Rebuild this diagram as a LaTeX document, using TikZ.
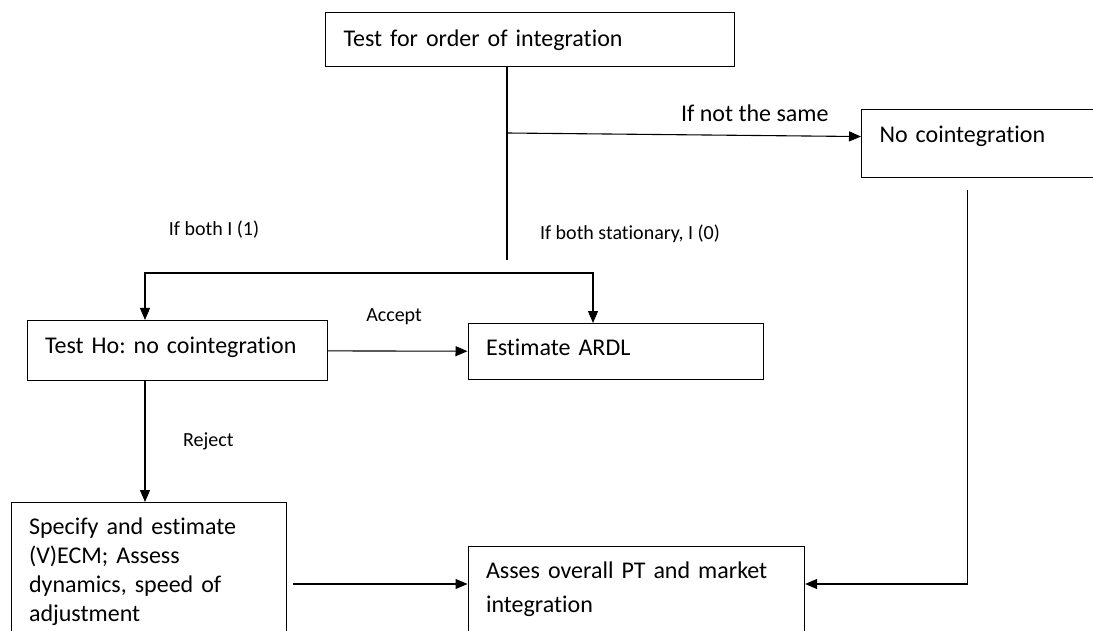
\documentclass[tikz,border=0pt]{standalone}
\usepackage{fontspec}
\setmainfont{Carlito}[RawFeature={-liga;-rlig;-clig;-calt;-dlig;-hlig}]
\frenchspacing
\usetikzlibrary{arrows.meta}
\begin{document}
\begin{tikzpicture}[x=1pt, y=-1pt, line width=1.1pt, >={Triangle[length=12pt,width=10pt]},
  box/.style={draw, rectangle, anchor=north west, align=left, inner xsep=18pt, inner ysep=0pt, font=\fontsize{24}{29}\selectfont},
  lbl/.style={inner sep=0pt, font=\fontsize{20}{24}\selectfont}]
\useasboundingbox (0,0) rectangle (1093,631);
\clip (0,0) rectangle (1093,631);
\node (order) at (325,12) [box, text width=373pt, text height=34pt, text depth=20pt] {Test for order of integration};
\node (nocoint) at (861,109) [box, text width=264pt, text height=32.7pt, text depth=35.3pt] {No cointegration};
\node (testho) at (26.5,320) [box, text width=264pt, text height=32.7pt, text depth=27.3pt] {Test Ho: no cointegration};
\node (ardl) at (467.5,323) [box, text width=259pt, text height=32pt, text depth=24pt] {Estimate ARDL};
\node (specify) at (10.5,502) [box, text width=239.5pt, text height=32pt, text depth=140pt] {Specify and estimate\\(V)ECM; Assess\\dynamics, speed of\\adjustment};
\node (asses) at (467.5,546) [box, text width=300.5pt, text height=31.7pt, text depth=100pt, font=\fontsize{24}{34.6}\selectfont] {Asses overall PT and market\\integration};
\node (bothone) at (214,230) [lbl] {If both I (1)};
\node (bothzero) at (630,234) [lbl] {If both stationary, I (0)};
\coordinate (split) at (507,260);
\coordinate (fork) at (507,133);
\coordinate (left) at (145,273);
\coordinate (right) at (593,273);
\coordinate (down) at (967.5,190);
\coordinate (join) at (967.5,584);
\draw (order.south -| split) -- (split);
\draw[->] (fork) to node[lbl, pos=0.7, above=13.6pt, font=\fontsize{24}{29}\selectfont]{If not the same} ([yshift=7pt]nocoint.west);
\draw[<->] (left |- testho.north) -- (left) -- (right) -- (right |- ardl.north);
\draw[->] (testho) to node[lbl, pos=0.475, above=26pt]{Accept} (ardl);
\draw[->] (testho.south -| left) to node[lbl, midway, right=37.6pt]{Reject} (specify.north -| left);
\draw[->, shorten <=6pt] (specify.east |- join) -- (asses.west |- join);
\draw[->] (down) -- (join) -- (asses.east |- join);
\end{tikzpicture}
\end{document}
